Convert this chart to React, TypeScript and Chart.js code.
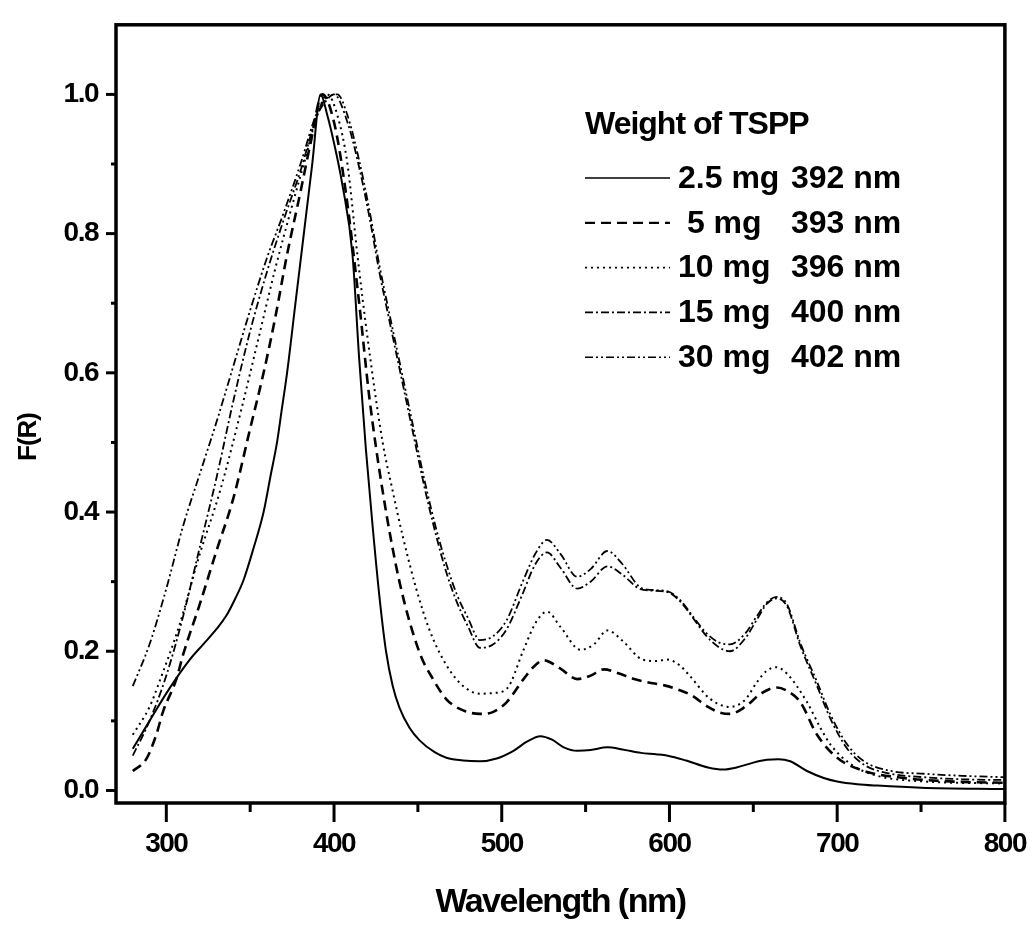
import React, { useEffect, useRef } from 'react';
import { Chart, registerables } from 'chart.js';

Chart.register(...registerables);

const FONT = "'Liberation Sans', Arial, Helvetica, sans-serif";

// ---- data (wavelength in nm, F(R) normalised) ----
const wl1 = [280, 290, 302, 314, 322, 330, 336, 341, 346, 352, 358, 362, 366, 369, 372, 377, 382, 387, 392, 396, 400, 405, 411, 415, 419, 423, 427, 431, 435, 439, 445, 451, 460, 467, 477, 487, 497, 507, 515, 523, 530, 537, 545, 553, 563, 572, 583, 592, 599, 610, 623, 632, 640, 650, 658, 665, 672, 682, 692, 700, 712, 724, 750, 800];
const fr1 = [0.06, 0.1, 0.147, 0.188, 0.21, 0.232, 0.252, 0.275, 0.302, 0.348, 0.4, 0.45, 0.5, 0.55, 0.6, 0.7, 0.8, 0.9, 1.0, 0.97, 0.93, 0.87, 0.77, 0.62, 0.49, 0.38, 0.28, 0.2, 0.15, 0.119, 0.09, 0.072, 0.055, 0.047, 0.043, 0.042, 0.046, 0.057, 0.07, 0.078, 0.073, 0.062, 0.057, 0.058, 0.062, 0.059, 0.054, 0.052, 0.05, 0.043, 0.033, 0.03, 0.033, 0.04, 0.044, 0.045, 0.042, 0.028, 0.018, 0.013, 0.009, 0.007, 0.004, 0.002];

const wl2 = [280, 288, 294, 298, 306, 310, 320, 330, 340, 350, 358, 365, 372, 380, 386, 393, 400, 407, 415, 421, 429, 439, 451, 459, 467, 477, 487, 495, 503, 513, 520, 525, 535, 545, 553, 561, 570, 579, 590, 597, 605, 613, 623, 630, 636, 645, 655, 664, 671, 678, 688, 700, 716, 736, 767, 800];
const fr2 = [0.028, 0.045, 0.08, 0.113, 0.16, 0.195, 0.268, 0.345, 0.42, 0.52, 0.6, 0.68, 0.77, 0.86, 0.93, 1.0, 0.96, 0.86, 0.7, 0.566, 0.43, 0.3, 0.198, 0.16, 0.131, 0.115, 0.11, 0.113, 0.127, 0.16, 0.18, 0.187, 0.175, 0.16, 0.165, 0.174, 0.168, 0.16, 0.154, 0.151, 0.145, 0.137, 0.12, 0.112, 0.11, 0.12, 0.14, 0.148, 0.142, 0.127, 0.08, 0.047, 0.028, 0.019, 0.013, 0.011];

const wl3 = [280, 290, 296, 308, 320, 332, 345, 355, 365, 375, 382, 390, 396, 402, 408, 414, 420, 429, 435, 441, 449, 457, 467, 477, 487, 495, 503, 513, 520, 527, 535, 547, 555, 563, 572, 584, 592, 599, 606, 612, 624, 636, 645, 652, 658, 664, 670, 682, 690, 696, 708, 724, 752, 800];
const fr3 = [0.08, 0.12, 0.157, 0.239, 0.34, 0.43, 0.55, 0.65, 0.75, 0.84, 0.9, 0.97, 1.0, 0.97, 0.9, 0.768, 0.65, 0.5, 0.43, 0.365, 0.29, 0.23, 0.18, 0.15, 0.139, 0.14, 0.146, 0.202, 0.24, 0.257, 0.235, 0.202, 0.21, 0.23, 0.215, 0.188, 0.186, 0.188, 0.18, 0.165, 0.132, 0.12, 0.13, 0.155, 0.172, 0.177, 0.168, 0.127, 0.09, 0.066, 0.038, 0.021, 0.013, 0.01];

const wl4 = [280, 290, 300, 310, 320, 330, 340, 350, 360, 370, 380, 390, 395, 400, 408, 415, 421, 427, 433, 440, 447, 454, 461, 467, 473, 480, 487, 495, 503, 512, 520, 527, 535, 545, 553, 563, 572, 582, 590, 599, 607, 614, 622, 630, 636, 645, 652, 658, 664, 670, 678, 688, 696, 706, 716, 732, 752, 775, 800];
const fr4 = [0.05, 0.1, 0.165, 0.25, 0.35, 0.45, 0.56, 0.66, 0.745, 0.82, 0.89, 0.97, 0.99, 1.0, 0.96, 0.895, 0.825, 0.745, 0.675, 0.595, 0.515, 0.435, 0.365, 0.313, 0.272, 0.235, 0.205, 0.21, 0.232, 0.28, 0.325, 0.342, 0.32, 0.29, 0.3, 0.322, 0.31, 0.29, 0.287, 0.285, 0.27, 0.248, 0.222, 0.205, 0.2, 0.218, 0.245, 0.268, 0.276, 0.265, 0.208, 0.15, 0.103, 0.06, 0.037, 0.024, 0.019, 0.016, 0.015];

const wl5 = [280, 290, 300, 310, 320, 330, 340, 350, 360, 370, 380, 390, 396, 402, 408, 415, 421, 427, 433, 440, 447, 454, 461, 467, 473, 480, 487, 495, 503, 512, 520, 527, 535, 545, 553, 563, 572, 582, 590, 599, 607, 614, 622, 630, 636, 645, 652, 658, 664, 670, 678, 688, 696, 706, 716, 732, 752, 775, 800];
const fr5 = [0.15, 0.21, 0.29, 0.38, 0.455, 0.53, 0.61, 0.69, 0.765, 0.83, 0.9, 0.975, 0.995, 1.0, 0.97, 0.905, 0.835, 0.755, 0.685, 0.605, 0.525, 0.445, 0.375, 0.325, 0.283, 0.247, 0.216, 0.222, 0.245, 0.297, 0.34, 0.36, 0.34, 0.307, 0.318, 0.344, 0.325, 0.293, 0.288, 0.286, 0.272, 0.25, 0.226, 0.212, 0.21, 0.225, 0.25, 0.27, 0.278, 0.268, 0.212, 0.156, 0.109, 0.066, 0.042, 0.028, 0.024, 0.021, 0.019];

const massLabels = ['2.5 mg', ' 5 mg', '10 mg', '15 mg', '30 mg'];
const peakLabels = ['392 nm', '393 nm', '396 nm', '400 nm', '402 nm'];
const legendTitle = 'Weight of TSPP';
const xTitle = 'Wavelength (nm)';
const yTitle = 'F(R)';

const X_MIN = 270;
const X_MAX = 800;
const Y_MIN = -0.018;
const Y_MAX = 1.1;

const seriesX = [wl1, wl2, wl3, wl4, wl5];
const seriesY = [fr1, fr2, fr3, fr4, fr5];
const dashes: number[][] = [[], [10, 6], [2, 4], [8, 3, 2, 3], [8, 3, 2, 3, 2, 3]];
const widths = [2, 2.6, 2, 1.8, 1.8];

const decorPlugin = {
  id: 'decor',
  beforeUpdate(chart: any) {
    chart.ctx.letterSpacing = '-1.5px';
  },
  beforeDraw(chart: any) {
    chart.ctx.letterSpacing = '-1.5px';
  },
  afterDraw(chart: any) {
    const ctx = chart.ctx as CanvasRenderingContext2D;
    const { left, right, top, bottom } = chart.chartArea;
    const xs = chart.scales.x;
    const ys = chart.scales.y;
    ctx.save();
    ctx.strokeStyle = '#000';
    ctx.fillStyle = '#000';
    // frame
    ctx.lineWidth = 3.5;
    ctx.setLineDash([]);
    ctx.strokeRect(left, top, right - left, bottom - top);
    // ticks
    ctx.lineWidth = 3;
    ctx.lineCap = 'butt';
    for (let v = 300; v <= 800; v += 50) {
      const px = xs.getPixelForValue(v);
      const len = v % 100 === 0 ? 19 : 9;
      ctx.beginPath();
      ctx.moveTo(px, bottom);
      ctx.lineTo(px, bottom + len);
      ctx.stroke();
    }
    for (let i = 0; i <= 10; i++) {
      const v = i / 10;
      const py = ys.getPixelForValue(v);
      const len = i % 2 === 0 ? 10 : 5;
      ctx.beginPath();
      ctx.moveTo(left, py);
      ctx.lineTo(left - len, py);
      ctx.stroke();
    }
    // y title
    (ctx as any).letterSpacing = '-1px';
    ctx.font = `bold 26px ${FONT}`;
    ctx.textAlign = 'center';
    ctx.textBaseline = 'middle';
    ctx.save();
    ctx.translate(29, 437);
    ctx.rotate(-Math.PI / 2);
    ctx.fillText(yTitle, 0, 0);
    ctx.restore();
    // legend
    (ctx as any).letterSpacing = '-1px';
    ctx.font = `bold 32px ${FONT}`;
    ctx.textAlign = 'left';
    ctx.textBaseline = 'middle';
    ctx.fillText(legendTitle, 585, 125);
    (ctx as any).letterSpacing = '0px';
    const ds = chart.data.datasets;
    for (let i = 0; i < ds.length; i++) {
      const y = 178 + i * 44.8;
      ctx.save();
      ctx.lineWidth = i === 1 ? 2.2 : 1.6;
      ctx.setLineDash(dashes[i]);
      ctx.beginPath();
      ctx.moveTo(585, y);
      ctx.lineTo(670, y);
      ctx.stroke();
      ctx.restore();
      ctx.fillText(massLabels[i], 678, y + 1);
      ctx.fillText(peakLabels[i], 791, y + 1);
    }
    ctx.restore();
  },
};

export default function App() {
  const ref = useRef<HTMLCanvasElement>(null);
  useEffect(() => {
    const canvas = ref.current;
    if (!canvas) return;
    const datasets = seriesX.map((xsArr, i) => ({
      label: massLabels[i].trim(),
      data: xsArr.map((x, j) => ({ x, y: seriesY[i][j] })),
      borderColor: '#000',
      borderWidth: widths[i],
      borderDash: dashes[i],
      pointRadius: 0,
      fill: false,
      cubicInterpolationMode: 'monotone' as const,
    }));
    const tickFont = { family: FONT, size: 28, weight: 'bold' as const };
    const chart = new Chart(canvas, {
      type: 'line',
      data: { datasets },
      options: {
        responsive: false,
        animation: false,
        devicePixelRatio: 1,
        layout: { padding: { left: 0, top: 12, right: 27, bottom: 0 } },
        plugins: { legend: { display: false }, tooltip: { enabled: false } },
        scales: {
          x: {
            type: 'linear',
            min: X_MIN,
            max: X_MAX,
            afterFit: (s: any) => {
              s.height = 126;
            },
            ticks: {
              stepSize: 100,
              includeBounds: false,
              autoSkip: false,
              maxRotation: 0,
              font: tickFont,
              color: '#000',
              padding: 7,
              callback: (v: any) => String(v),
            },
            grid: { display: true, drawOnChartArea: false, drawTicks: true, tickLength: 17, color: 'rgba(0,0,0,0)' },
            border: { display: false },
            title: {
              display: true,
              text: xTitle,
              color: '#000',
              font: { family: FONT, size: 34, weight: 'bold' },
              padding: { top: 0, bottom: 6 },
            },
          },
          y: {
            type: 'linear',
            min: Y_MIN,
            max: Y_MAX,
            afterFit: (s: any) => {
              s.width = 116;
            },
            ticks: {
              stepSize: 0.2,
              includeBounds: false,
              font: tickFont,
              color: '#000',
              padding: 8,
              callback: (v: any) => Number(v).toFixed(1),
            },
            grid: { display: true, drawOnChartArea: false, drawTicks: true, tickLength: 10, color: 'rgba(0,0,0,0)' },
            border: { display: false },
            title: { display: false },
          },
        },
      },
      plugins: [decorPlugin],
    });
    return () => chart.destroy();
  }, []);
  return (
    <div style={{ position: 'absolute', left: 0, top: 0, width: 1033, height: 929, background: '#fff' }}>
      <canvas ref={ref} width={1033} height={929} style={{ display: 'block' }} />
    </div>
  );
}
